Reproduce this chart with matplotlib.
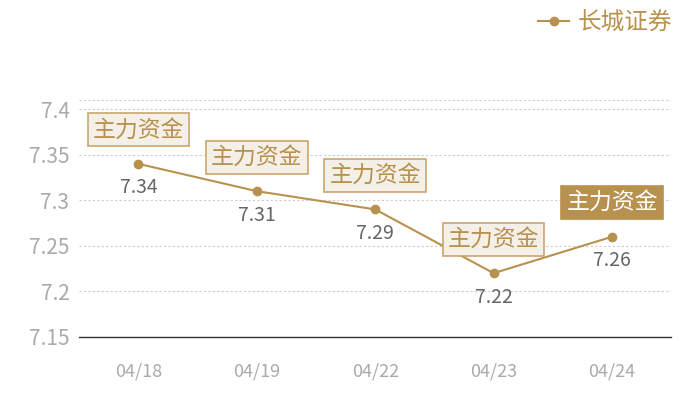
import matplotlib
matplotlib.use("Agg")
import matplotlib.pyplot as plt

plt.rcParams['font.family'] = ['Noto Sans CJK SC', 'DejaVu Sans']

dates = ["04/18", "04/19", "04/22", "04/23", "04/24"]
prices = [7.34, 7.31, 7.29, 7.22, 7.26]
tag_text = "主力资金"
series_name = "长城证券"
y_ticks = [7.15, 7.2, 7.25, 7.3, 7.35, 7.4]
y_tick_labels = ["7.15", "7.2", "7.25", "7.3", "7.35", "7.4"]

gold = "#b8914f"
box_fill = "#f4efe7"
box_edge = "#c9a56d"

fig = plt.figure(figsize=(7, 4), dpi=100)
ax = fig.add_axes([0.113, 0.1575, 0.846, 0.5925])

x = list(range(len(dates)))
ax.plot(x, prices, color=gold, lw=1.5, marker="o", ms=6, label=series_name, zorder=3)

ax.set_xlim(-0.5, len(dates) - 0.5)
ymax = 7.41
ax.set_ylim(7.15, ymax)
ax.set_xticks(x)
ax.set_xticklabels(dates)
ax.set_yticks(y_ticks)
ax.set_yticklabels(y_tick_labels)
ax.tick_params(axis="x", length=0, pad=18, labelsize=13, labelcolor="#aaaaaa")
ax.tick_params(axis="y", length=0, pad=7, labelsize=15, labelcolor="#aaaaaa")

for s in ["top", "right", "left"]:
    ax.spines[s].set_visible(False)
ax.spines["bottom"].set_color("#333333")
ax.spines["bottom"].set_linewidth(1)

# dashed split lines, including one along the top of the plot area
for v in y_ticks[1:] + [ymax]:
    ax.axhline(v, color="#cccccc", lw=0.8, ls=(0, (2, 2)), zorder=1)

for i, p in enumerate(prices):
    ax.annotate(f"{p:.2f}", (i, p), xytext=(0, -24), textcoords="offset pixels",
                ha="center", va="center", fontsize=14, color="#666666", zorder=4)
    last = i == len(prices) - 1
    ax.annotate(tag_text, (i, p), xytext=(0, 34), textcoords="offset pixels",
                ha="center", va="center", fontsize=16.5,
                color="white" if last else gold, zorder=5,
                bbox=dict(boxstyle="square,pad=0.22",
                          fc=gold if last else box_fill,
                          ec=gold if last else box_edge, lw=1.2))

fig.legend(loc="upper right", bbox_to_anchor=(0.99, 1.025), frameon=False,
           fontsize=17, labelcolor=gold, handlelength=1.3, handletextpad=0.35)

fig.savefig("out.png", dpi=100)
